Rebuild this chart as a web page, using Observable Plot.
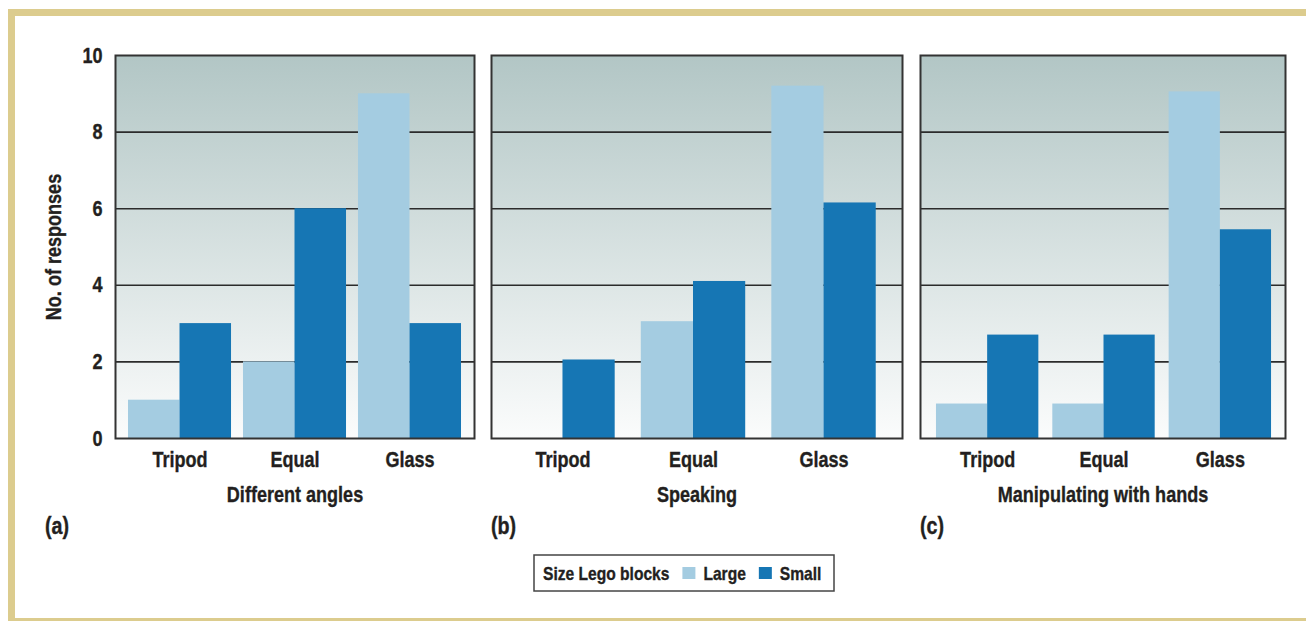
<!DOCTYPE html>
<html>
<head>
<meta charset="utf-8">
<script src="https://cdn.jsdelivr.net/npm/d3@7"></script>
<script src="https://cdn.jsdelivr.net/npm/@observablehq/plot@0.6"></script>
<style>
  html, body { margin: 0; padding: 0; background: #ffffff; }
  #root { position: relative; width: 1306px; height: 621px; overflow: hidden; background: #fff;
          font-family: "Liberation Sans", Arial, sans-serif; font-weight: bold; color: #231f20; }
  #border { position: absolute; left: 8px; top: 9px; width: 1400px; height: 602px; border: 7px solid #dccc8e; border-right: none; }
  .panel { position: absolute; top: 0; }
  .tag { position: absolute; font-size: 24px; top: 512px; transform: scaleX(0.82); transform-origin: left center;
         -webkit-text-stroke: 0.4px #231f20; }
  #legend { position: absolute; left: 533px; top: 554px; overflow: visible; }
  svg text { stroke: #231f20; stroke-width: 0.35px; }
</style>
</head>
<body>
<div id="root">
  <div id="border"></div>
</div>
<script>
// ---- data ----
const categories = ["Tripod", "Equal", "Glass"];
const sizes = ["Large", "Small"];
const panelTitles = ["Different angles", "Speaking", "Manipulating with hands"];
const panelTags = ["(a)", "(b)", "(c)"];
const legendTitle = "Size Lego blocks";
const yLabel = "No. of responses";
const yTicks = [0, 2, 4, 6, 8, 10];

const largeA = [1, 2, 9];
const smallA = [3, 6, 3];
const largeB = [0, 3.05, 9.2];
const smallB = [2.05, 4.1, 6.15];
const largeC = [0.9, 0.9, 9.05];
const smallC = [2.7, 2.7, 5.45];

const sizeColors = ["#a4cce1", "#1676b4"];

// ---- layout ----
const layout = [
  {left: 0,   width: 478, ml: 115, mr: 4, r0: 115, r1: 474, pi: 0.104, po: 0.113, tagX: 45},
  {left: 487, width: 419, ml: 4,   mr: 4, r0: 2,   r1: 410, pi: 0.2,   po: 0.163, tagX: 491},
  {left: 916, width: 373, ml: 4,   mr: 4, r0: 6,   r1: 369, pi: 0.12,  po: 0.12,  tagX: 920}
];
const CONDENSE = 0.82;
const fontStyle = "font-family: 'Liberation Sans', Arial, sans-serif; font-size: 22px; font-weight: bold; color: #231f20; background: transparent; overflow: visible;";

const root = document.getElementById("root");

function condense(svg) {
  d3.select(svg).selectAll("text").each(function () {
    const len = this.getComputedTextLength();
    if (len > 0) {
      this.setAttribute("textLength", len * CONDENSE);
      this.setAttribute("lengthAdjust", "spacingAndGlyphs");
    }
  });
}

function drawPanel(i, large, small) {
  const L = layout[i];
  const xOpts = {type: "band", domain: categories, range: [L.r0, L.r1], paddingInner: L.pi, paddingOuter: L.po, round: false};
  const bw = Plot.scale({x: xOpts}).bandwidth;
  const rows = categories.map((c, j) => ({cat: c, large: large[j], small: small[j]}));
  const gid = "bggrad" + i;
  const svg = Plot.plot({
    width: L.width,
    height: 518,
    marginLeft: L.ml,
    marginRight: L.mr,
    marginTop: 55,
    marginBottom: 80,
    style: fontStyle,
    x: {...xOpts, tickSize: 0, tickPadding: 13, label: panelTitles[i], labelAnchor: "center", labelOffset: 63},
    y: {domain: [0, 10], ticks: yTicks, tickSize: 0, tickPadding: 13, tickFormat: d => String(d),
        axis: i === 0 ? "left" : null, label: i === 0 ? yLabel : null, labelAnchor: "center", labelOffset: 70},
    marks: [
      Plot.frame({fill: `url(#${gid})`, stroke: "none"}),
      Plot.ruleY(yTicks.filter(t => t > 0 && t < 10), {stroke: "#2b2b2b", strokeWidth: 1.6}),
      Plot.barY(rows, {x: "cat", y: "large", fill: sizeColors[0], insetRight: bw / 2}),
      Plot.barY(rows, {x: "cat", y: "small", fill: sizeColors[1], insetLeft: bw / 2}),
      Plot.frame({stroke: "#333", strokeWidth: 2})
    ]
  });
  // strip any automatic label arrow
  d3.select(svg).selectAll("text").each(function () {
    if (this.childElementCount === 0 && /[↑↓→←]/.test(this.textContent)) {
      this.textContent = this.textContent.replace(/\s*[↑↓→←]\s*/g, "").trim();
    }
  });
  const defs = d3.select(svg).insert("defs", ":first-child");
  const g = defs.append("linearGradient").attr("id", gid).attr("x1", 0).attr("y1", 0).attr("x2", 0).attr("y2", 1);
  g.append("stop").attr("offset", "0%").attr("stop-color", "#b2c6c5");
  g.append("stop").attr("offset", "100%").attr("stop-color", "#fbfcfc");
  const wrap = document.createElement("div");
  wrap.className = "panel";
  wrap.style.left = L.left + "px";
  wrap.appendChild(svg);
  root.appendChild(wrap);
  condense(svg);

  const tag = document.createElement("div");
  tag.className = "tag";
  tag.style.left = L.tagX + "px";
  tag.textContent = panelTags[i];
  root.appendChild(tag);
}

drawPanel(0, largeA, smallA);
drawPanel(1, largeB, smallB);
drawPanel(2, largeC, smallC);

// ---- legend ----
const lsvg = d3.create("svg").attr("id", "legend").attr("width", 303).attr("height", 39)
  .style("font-family", "'Liberation Sans', Arial, sans-serif").style("font-size", "19px").style("font-weight", "bold");
root.appendChild(lsvg.node());
lsvg.append("rect").attr("x", 1).attr("y", 1).attr("width", 300).attr("height", 36)
  .attr("fill", "#fff").attr("stroke", "#444").attr("stroke-width", 1.5);
let cx = 10;
const cy = 19;
function addText(str) {
  const t = lsvg.append("text").attr("x", cx).attr("y", cy).attr("dy", "0.35em").attr("fill", "#231f20").text(str);
  const len = t.node().getComputedTextLength() * CONDENSE;
  t.attr("textLength", len).attr("lengthAdjust", "spacingAndGlyphs");
  cx += len;
}
addText(legendTitle);
sizes.forEach((s, k) => {
  cx += 13;
  lsvg.append("rect").attr("x", cx).attr("y", cy - 6).attr("width", 13).attr("height", 12).attr("fill", sizeColors[k]);
  cx += 13 + 8;
  addText(s);
});
</script>
</body>
</html>
